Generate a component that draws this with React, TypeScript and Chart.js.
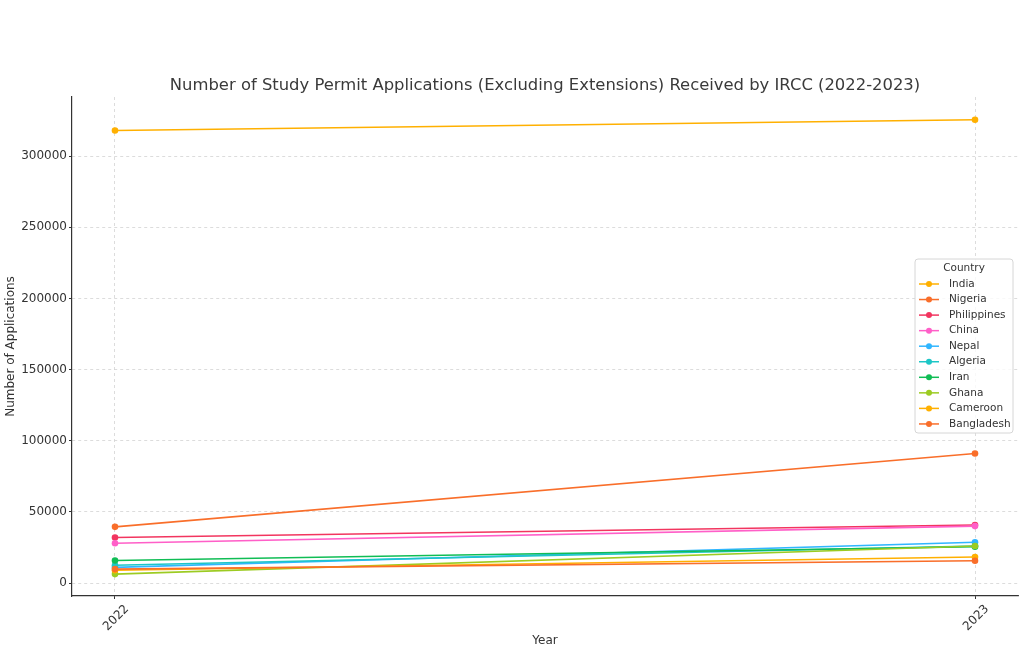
import React, { useEffect, useRef } from "react";
import { Chart, registerables } from "chart.js";

Chart.register(...registerables);

const years = [2022, 2023];
const countries = ["India", "Nigeria", "Philippines", "China", "Nepal", "Algeria", "Iran", "Ghana", "Cameroon", "Bangladesh"];
const india = [318000, 325500];
const nigeria = [39500, 91000];
const philippines = [32000, 40800];
const china = [28000, 40000];
const nepal = [11000, 28700];
const algeria = [12500, 26000];
const iran = [15800, 25500];
const ghana = [6300, 26000];
const cameroon = [9000, 18300];
const bangladesh = [9800, 15700];
const seriesValues = [india, nigeria, philippines, china, nepal, algeria, iran, ghana, cameroon, bangladesh];
const yTickValues = [0, 50000, 100000, 150000, 200000, 250000, 300000];

const colors = ["#FFB000", "#F96E2A", "#F2355F", "#FF5FC8", "#30B6FF", "#1DC6C6", "#10BD55", "#9CCB22", "#FFB000", "#F96E2A"];

const FONT = "DejaVu Sans";
const TEXT = "#333333";

const titlePlugin = {
  id: "customTitle",
  afterDraw(chart: any) {
    const ctx = chart.ctx;
    ctx.save();
    ctx.font = `16.4px "${FONT}"`;
    ctx.fillStyle = "#3a3a3a";
    ctx.textAlign = "center";
    ctx.textBaseline = "middle";
    ctx.fillText("Number of Study Permit Applications (Excluding Extensions) Received by IRCC (2022-2023)", 545, 86);
    ctx.restore();
  },
};

const legendPlugin = {
  id: "customLegend",
  afterDatasetsDraw(chart: any) {
    const ctx = chart.ctx;
    const x0 = 915, y0 = 259, w = 98, h = 174;
    ctx.save();
    ctx.beginPath();
    const r = 3;
    ctx.moveTo(x0 + r, y0);
    ctx.arcTo(x0 + w, y0, x0 + w, y0 + h, r);
    ctx.arcTo(x0 + w, y0 + h, x0, y0 + h, r);
    ctx.arcTo(x0, y0 + h, x0, y0, r);
    ctx.arcTo(x0, y0, x0 + w, y0, r);
    ctx.closePath();
    ctx.fillStyle = "rgba(255,255,255,0.8)";
    ctx.fill();
    ctx.strokeStyle = "#d6d6d6";
    ctx.lineWidth = 1;
    ctx.stroke();
    ctx.font = `10.5px "${FONT}"`;
    ctx.fillStyle = TEXT;
    ctx.textAlign = "center";
    ctx.textBaseline = "middle";
    ctx.fillText("Country", 964, 268.5);
    ctx.textAlign = "left";
    countries.forEach((name, i) => {
      const y = 284 + i * 15.55;
      ctx.strokeStyle = colors[i];
      ctx.lineWidth = 1.5;
      ctx.beginPath();
      ctx.moveTo(919, y);
      ctx.lineTo(939, y);
      ctx.stroke();
      ctx.fillStyle = colors[i];
      ctx.beginPath();
      ctx.arc(929, y, 3, 0, Math.PI * 2);
      ctx.fill();
      ctx.fillStyle = TEXT;
      ctx.fillText(name, 949, y);
    });
    ctx.restore();
  },
};

export default function App() {
  const ref = useRef<HTMLCanvasElement>(null);
  useEffect(() => {
    if (!ref.current) return;
    const datasets = countries.map((name, i) => ({
      label: name,
      data: years.map((yr, j) => ({ x: yr, y: seriesValues[i][j] })),
      borderColor: colors[i],
      backgroundColor: colors[i],
      borderWidth: 1.6,
      pointRadius: 3.3,
      pointBorderWidth: 0,
      pointHoverRadius: 3.3,
      order: countries.length - i,
      tension: 0,
    }));
    const gridOpts = { color: "#d4d4d4", lineWidth: 0.8, tickLength: 3, tickColor: TEXT, tickWidth: 1 };
    const borderOpts = { display: true, color: TEXT, width: 1.2, dash: [3, 3] };
    const chart = new Chart(ref.current, {
      type: "line",
      data: { datasets },
      plugins: [titlePlugin, legendPlugin],
      options: {
        animation: false,
        responsive: false,
        devicePixelRatio: 1,
        layout: { padding: { top: 97, right: 6, left: 0, bottom: 0 } },
        plugins: { legend: { display: false }, title: { display: false }, tooltip: { enabled: false } },
        scales: {
          x: {
            type: "linear",
            min: 2021.95,
            max: 2023.05,
            afterBuildTicks: (scale: any) => {
              scale.ticks = years.map((v) => ({ value: v }));
            },
            afterFit: (scale: any) => {
              scale.height = 74;
            },
            ticks: {
              color: TEXT,
              font: { family: FONT, size: 12 },
              minRotation: 45,
              maxRotation: 45,
              labelOffset: 12,
              callback: (v: any) => String(v),
            },
            grid: gridOpts,
            border: borderOpts,
            title: { display: true, text: "Year", color: TEXT, font: { family: FONT, size: 12 }, padding: { top: 4, bottom: 22 } },
          },
          y: {
            type: "linear",
            min: -9100,
            max: 341500,
            afterBuildTicks: (scale: any) => {
              scale.ticks = yTickValues.map((v) => ({ value: v }));
            },
            afterFit: (scale: any) => {
              scale.width = 72;
            },
            ticks: {
              color: TEXT,
              font: { family: FONT, size: 12 },
              padding: 2,
              callback: (v: any) => String(v),
            },
            grid: gridOpts,
            border: borderOpts,
            title: { display: true, text: "Number of Applications", color: TEXT, font: { family: FONT, size: 12 }, padding: { top: 4, bottom: 4 } },
          },
        },
      },
    } as any);
    return () => chart.destroy();
  }, []);
  return (
    <div style={{ position: "absolute", left: 0, top: 0, width: 1024, height: 670, background: "#fff" }}>
      <canvas ref={ref} width={1024} height={670} style={{ display: "block" }} />
    </div>
  );
}
